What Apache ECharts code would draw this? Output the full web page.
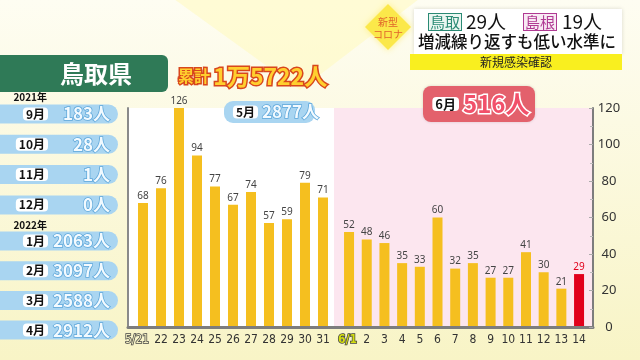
<!DOCTYPE html>
<html><head><meta charset="utf-8">
<script src="https://cdn.jsdelivr.net/npm/echarts@6/dist/echarts.min.js"></script>
<style>html,body{margin:0;padding:0;background:#fbf8d8;}#c{width:640px;height:360px;}</style>
</head><body><div id="c"></div>
<script>
// ---- data ----
const mayDays = ['5/21','22','23','24','25','26','27','28','29','30','31'];
const mayValues = [68,76,126,94,77,67,74,57,59,79,71];
const juneDays = ['6/1','2','3','4','5','6','7','8','9','10','11','12','13','14'];
const juneValues = [52,48,46,35,33,60,32,35,27,27,41,30,21,29];
const monthNames = ['9月','10月','11月','12月','1月','2月','3月','4月'];
const monthTotals = [183,28,1,0,2063,3097,2588,2912];
const yearLabels = ['2021年','2022年'];
const prefecture = '鳥取県';
const cumulativeText = '1万5722人';
const mayTotal = 2877;
const juneTotal = 516;
const tottoriToday = 29;
const shimaneToday = 19;
const headline = '増減繰り返すも低い水準に';
const subline = '新規感染確認';
const yMax = 120;

const JP = '"Noto Sans CJK JP","Noto Sans",sans-serif';
const NARROW = '"Liberation Sans Narrow","DejaVu Sans Condensed",sans-serif';

// ---- graphic decorations ----
const g = [];
g.push({type:'polygon', z:-10, shape:{points:[[120,-40],[300,90],[470,-40]]}, style:{fill:'rgba(255,250,190,0.55)'}});
// left panel
g.push({type:'rect', shape:{x:-10,y:55,width:178,height:37,r:6}, style:{fill:'#2f7a57'}});
g.push({type:'text', x:96, y:74, style:{text:prefecture, font:'bold 24px '+JP, fill:'#fff', align:'center', verticalAlign:'middle', textAlign:'center', textVerticalAlign:'middle'}});
monthNames.forEach((m,i)=>{
  const cy = i<4 ? 114 + i*30.3 : 241 + (i-4)*29.7;
  g.push({type:'rect', shape:{x:-10,y:cy-9.5,width:128,height:19,r:9.5}, style:{fill:'#a9d5f1'}});
  g.push({type:'text', x:48, y:cy, style:{text:m, font:'bold 12px '+JP, fill:'#111', align:'right', verticalAlign:'middle', textAlign:'right', textVerticalAlign:'middle', backgroundColor:'#fff', padding:[1,3,0,3], borderRadius:4}});
  g.push({type:'text', x:110, y:cy, style:{text:monthTotals[i]+'人', font:'bold 17px '+JP, fill:'#f2faff', stroke:'#5ea7da', lineWidth:1.5, align:'right', verticalAlign:'middle', textAlign:'right', textVerticalAlign:'middle'}});
});
g.push({type:'text', x:47, y:97, style:{text:yearLabels[0], font:'bold 10px '+JP, fill:'#111', align:'right', verticalAlign:'middle', textAlign:'right', textVerticalAlign:'middle'}});
g.push({type:'text', x:47, y:225, style:{text:yearLabels[1], font:'bold 10px '+JP, fill:'#111', align:'right', verticalAlign:'middle', textAlign:'right', textVerticalAlign:'middle'}});
// cumulative
g.push({type:'text', x:178, y:76, style:{text:'{a|累計} {b|'+cumulativeText+'}', align:'left', verticalAlign:'middle', textAlign:'left', textVerticalAlign:'middle',
  rich:{a:{font:'bold 16px '+JP, fill:'#ffcf2e', stroke:'#d8471c', lineWidth:3},
        b:{font:'bold 23px '+JP, fill:'#ffcf2e', stroke:'#d8471c', lineWidth:3}}}});
// May box
g.push({type:'rect', shape:{x:224,y:101,width:91,height:22,r:9}, style:{fill:'#a9d5f1'}});
g.push({type:'text', x:258, y:112, style:{text:'5月', font:'bold 12px '+JP, fill:'#111', align:'right', verticalAlign:'middle', textAlign:'right', textVerticalAlign:'middle', backgroundColor:'#fff', padding:[1,3,0,3], borderRadius:4}});
g.push({type:'text', x:262, y:112, style:{text:mayTotal+'人', font:'bold 17px '+JP, fill:'#f2faff', stroke:'#5ea7da', lineWidth:1.5, align:'left', verticalAlign:'middle', textAlign:'left', textVerticalAlign:'middle'}});
// June box
g.push({type:'rect', z:5, shape:{x:423,y:86,width:112,height:36,r:8}, style:{fill:'#e3616c', shadowBlur:3, shadowColor:'rgba(0,0,0,0.15)'}});
g.push({type:'text', z:6, x:459, y:104, style:{text:'6月', font:'bold 13px '+JP, fill:'#111', align:'right', verticalAlign:'middle', textAlign:'right', textVerticalAlign:'middle', backgroundColor:'#fff', padding:[1,3,0,3], borderRadius:4}});
g.push({type:'text', z:6, x:463, y:104, style:{text:juneTotal+'人', font:'bold 24px '+JP, fill:'#f2506a', stroke:'#fff', lineWidth:3, align:'left', verticalAlign:'middle', textAlign:'left', textVerticalAlign:'middle'}});
// top-right header
g.push({type:'polygon', shape:{points:[[388,4],[411,27],[388,50],[365,27]]}, style:{fill:'#fbe84a', shadowBlur:6, shadowColor:'rgba(255,240,120,0.9)'}});
g.push({type:'text', x:388, y:22, style:{text:'新型', font:'10px '+JP, fill:'#e0642b', align:'center', verticalAlign:'middle', textAlign:'center', textVerticalAlign:'middle'}});
g.push({type:'text', x:388, y:34, style:{text:'コロナ', font:'10px '+JP, fill:'#e0642b', align:'center', verticalAlign:'middle', textAlign:'center', textVerticalAlign:'middle'}});
g.push({type:'rect', shape:{x:414,y:9,width:208,height:45}, style:{fill:'#fff', shadowBlur:4, shadowColor:'rgba(0,0,0,0.15)'}});
g.push({type:'text', x:429, y:22, style:{text:'鳥取', font:'15px '+JP, fill:'#2a8a74', backgroundColor:'#eaf6f1', borderColor:'#2a8a74', borderWidth:1, padding:[1,1,0,1], align:'left', verticalAlign:'middle', textAlign:'left', textVerticalAlign:'middle'}});
g.push({type:'text', x:466, y:22, style:{text:tottoriToday+'人', font:'19px '+JP, fill:'#111', align:'left', verticalAlign:'middle', textAlign:'left', textVerticalAlign:'middle'}});
g.push({type:'text', x:524, y:22, style:{text:'島根', font:'15px '+JP, fill:'#b03a93', backgroundColor:'#f8eaf4', borderColor:'#b03a93', borderWidth:1, padding:[1,1,0,1], align:'left', verticalAlign:'middle', textAlign:'left', textVerticalAlign:'middle'}});
g.push({type:'text', x:562, y:22, style:{text:shimaneToday+'人', font:'19px '+JP, fill:'#111', align:'left', verticalAlign:'middle', textAlign:'left', textVerticalAlign:'middle'}});
g.push({type:'text', x:517, y:42, style:{text:headline, font:'500 16.5px '+JP, fill:'#111', align:'center', verticalAlign:'middle', textAlign:'center', textVerticalAlign:'middle'}});
g.push({type:'rect', shape:{x:410,y:54,width:212,height:16}, style:{fill:'#f9ef1f'}});
g.push({type:'text', x:516, y:62, style:{text:subline, font:'12px '+JP, fill:'#222', align:'center', verticalAlign:'middle', textAlign:'center', textVerticalAlign:'middle'}});

const juneData = juneValues.map((v,i)=> i===juneValues.length-1
  ? {value:v, itemStyle:{color:'#e1001b'}, label:{color:'#e1001b'}} : v);

const barLabel = {show:true, position:'top', distance:2, fontSize:10, color:'#444', fontFamily:'"Noto Sans",sans-serif'};
const xLabelBase = {interval:0, margin:7, fontSize:12, color:'#333', fontFamily:NARROW};
const TOP = 108, BOTTOM = 33;

const option = {
  animation:false,
  backgroundColor:{type:'linear', x:0, y:0, x2:0, y2:1, colorStops:[{offset:0,color:'#fefdf2'},{offset:1,color:'#f8f4c6'}]},
  graphic:{elements:g},
  grid:[
    {left:128, right:47, top:TOP, bottom:BOTTOM, show:true, backgroundColor:'#fff', borderWidth:0},
    {left:134, width:198, top:TOP, bottom:BOTTOM},
    {left:340.2, width:247.7, top:TOP, bottom:BOTTOM},
    {left:334, right:47, top:TOP, bottom:BOTTOM, show:true, backgroundColor:'#fce6ef', borderWidth:0}
  ],
  xAxis:[
    {type:'value', gridIndex:0, min:0, max:1, z:10, axisLine:{show:true, onZero:false, lineStyle:{color:'#7d7d7d', width:3}}, axisTick:{show:false}, axisLabel:{show:false}, splitLine:{show:false}},
    {type:'category', gridIndex:1, data:mayDays, axisLine:{show:false, onZero:false}, axisTick:{show:false},
      axisLabel:Object.assign({}, xLabelBase, {formatter:(v,i)=> i===0 ? '{f|'+v+'}' : v,
        rich:{f:{fontSize:12, fontFamily:NARROW, color:'#f3efc2', textBorderColor:'#444', textBorderWidth:1.5, padding:[0,12,0,0]}}})},
    {type:'category', gridIndex:2, data:juneDays, axisLine:{show:false, onZero:false}, axisTick:{show:false},
      axisLabel:Object.assign({}, xLabelBase, {formatter:(v,i)=> i===0 ? '{f|'+v+'}' : v,
        rich:{f:{fontSize:12, fontFamily:NARROW, fontWeight:'bold', color:'#d4de10', textBorderColor:'#444', textBorderWidth:1.5, padding:[0,3,0,0]}}})},
    {type:'value', gridIndex:3, min:0, max:1, show:false}
  ],
  yAxis:[
    {type:'value', gridIndex:0, position:'right', min:0, max:yMax, interval:20, z:10,
      axisLine:{show:true, onZero:false, lineStyle:{color:'#7d7d7d', width:2}},
      axisTick:{show:true, inside:true, length:4, lineStyle:{color:'#aaa'}},
      minorTick:{show:true, splitNumber:2, length:3, lineStyle:{color:'#bbb'}},
      axisLabel:{align:'center', margin:16, fontSize:13, color:'#333', fontFamily:'"Noto Sans",sans-serif'},
      splitLine:{show:false}},
    {type:'value', gridIndex:0, position:'left', min:0, max:yMax, z:10,
      axisLine:{show:true, onZero:false, lineStyle:{color:'#8a8a8a', width:2}}, axisTick:{show:false}, minorTick:{show:false}, axisLabel:{show:false}, splitLine:{show:false}},
    {type:'value', gridIndex:1, min:0, max:yMax, show:false},
    {type:'value', gridIndex:2, min:0, max:yMax, show:false},
    {type:'value', gridIndex:3, min:0, max:1, show:false}
  ],
  series:[
    {type:'bar', xAxisIndex:1, yAxisIndex:2, data:mayValues, barWidth:10, itemStyle:{color:'#f5bf1f'}, label:barLabel, z:5},
    {type:'bar', xAxisIndex:2, yAxisIndex:3, data:juneData, barWidth:10, itemStyle:{color:'#f5bf1f'}, label:barLabel, z:5}
  ]
};
echarts.init(document.getElementById('c')).setOption(option);
</script></body></html>
